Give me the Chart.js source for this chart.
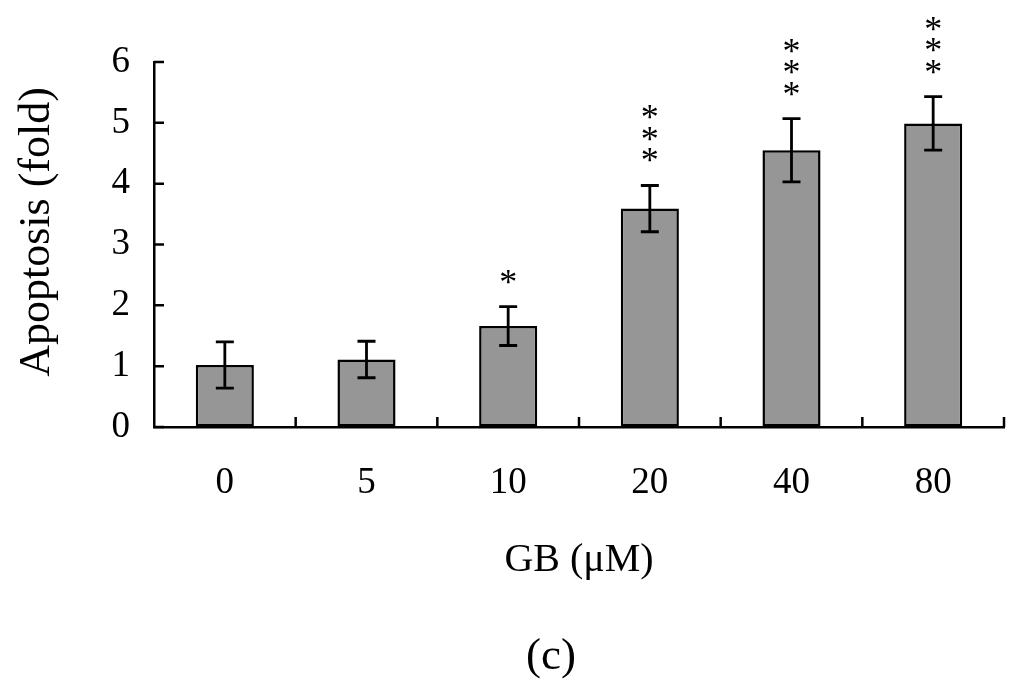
<!DOCTYPE html>
<html>
<head>
<meta charset="utf-8">
<title>Apoptosis (fold)</title>
<script src="https://cdn.jsdelivr.net/npm/chart.js@4.4.1/dist/chart.umd.min.js"></script>
<style>
  html, body { margin: 0; padding: 0; background: #fff; }
  canvas { display: block; }
</style>
</head>
<body>
<canvas id="apoptosisChart" width="1024" height="688"></canvas>
<script>

// ================= DATA =================
const doses = ["0", "5", "10", "20", "40", "80"];
const foldValues = [1.02, 1.11, 1.66, 3.59, 4.55, 4.99];
const foldErrors = [0.38, 0.30, 0.32, 0.38, 0.52, 0.44];
const stars = ["", "", "*", "***", "***", "***"];
const yTicks = [0, 1, 2, 3, 4, 5, 6];

const SERIF = "'Liberation Serif', 'Times New Roman', serif";


// ================= EXTRAS (error bars, stars, inward ticks, labels) =================
const extrasPlugin = {
  id: "extras",
  afterDatasetsDraw(chart) {
    const { ctx, chartArea, scales: { x, y } } = chart;

    ctx.save();
    ctx.strokeStyle = "#000";
    ctx.fillStyle = "#000";
    ctx.lineWidth = 2.8;

    // error bars
    foldValues.forEach((v, i) => {
      const cx = x.getPixelForValue(i);
      const top = y.getPixelForValue(v + foldErrors[i]);
      const bot = y.getPixelForValue(v - foldErrors[i]);
      ctx.beginPath();
      ctx.moveTo(cx, top); ctx.lineTo(cx, bot);
      ctx.moveTo(cx - 9, top); ctx.lineTo(cx + 9, top);
      ctx.moveTo(cx - 9, bot); ctx.lineTo(cx + 9, bot);
      ctx.stroke();
    });

    // significance stars, stacked one above the other
    ctx.font = "36px " + SERIF;
    ctx.textAlign = "center";
    ctx.textBaseline = "alphabetic";
    const m = ctx.measureText("*");
    const shift = (m.actualBoundingBoxAscent - m.actualBoundingBoxDescent) / 2;
    stars.forEach((s, i) => {
      if (!s) return;
      const cx = x.getPixelForValue(i);
      const base = y.getPixelForValue(foldValues[i] + foldErrors[i]) - 30;
      for (let k = 0; k < s.length; k++) {
        ctx.fillText("*", cx, base - k * 21.5 + shift);
      }
    });

    // y ticks point into the plot
    ctx.lineWidth = 2.5;
    ctx.beginPath();
    yTicks.forEach(t => {
      const py = y.getPixelForValue(t);
      ctx.moveTo(chartArea.left, py);
      ctx.lineTo(chartArea.left + 10, py);
    });
    // x ticks sit between the categories, pointing up
    doses.forEach((d, i) => {
      const px = x.getPixelForValue(i + 0.5);
      ctx.moveTo(px, chartArea.bottom);
      ctx.lineTo(px, chartArea.bottom - 10);
    });
    ctx.stroke();

    // y axis title (sits a little above the plot centre in the original)
    ctx.textBaseline = "middle";
    ctx.font = "44px " + SERIF;
    ctx.save();
    ctx.translate(37, 232);
    ctx.rotate(-Math.PI / 2);
    ctx.fillText("Apoptosis (fold)", 0, 0);
    ctx.restore();

    // panel label
    ctx.font = "45px " + SERIF;
    ctx.fillText("(c)", 551, 657);

    ctx.restore();
  }
};


// ================= CHART =================
new Chart(document.getElementById("apoptosisChart"), {
  type: "bar",
  data: {
    labels: doses,
    datasets: [{
      data: foldValues,
      backgroundColor: "#969696",
      borderColor: "#000",
      borderWidth: 2.5,
      borderSkipped: false,
      barPercentage: 0.41,
      categoryPercentage: 1
    }]
  },
  options: {
    responsive: false,
    animation: false,
    devicePixelRatio: 1,
    layout: { padding: { top: 62, right: 20, left: 0, bottom: 0 } },
    plugins: {
      legend: { display: false },
      tooltip: { enabled: false }
    },
    scales: {
      x: {
        afterFit: s => { s.height = 261; },
        grid: { display: true, drawOnChartArea: false, drawTicks: false },
        border: { display: true, color: "#000", width: 2.5 },
        ticks: {
          color: "#000",
          padding: 34,
          font: { family: SERIF, size: 37 }
        },
        title: {
          display: true,
          text: "GB (μM)",
          color: "#000",
          font: { family: SERIF, size: 40 },
          padding: { top: 0, bottom: 104 }
        }
      },
      y: {
        min: 0,
        max: 6,
        afterFit: s => { s.width = 154; },
        afterBuildTicks: s => { s.ticks = yTicks.map(v => ({ value: v })); },
        grid: { display: true, drawOnChartArea: false, drawTicks: false },
        border: { display: true, color: "#000", width: 2.5 },
        ticks: {
          color: "#000",
          padding: 24,
          font: { family: SERIF, size: 37 }
        }
      }
    }
  },
  plugins: [extrasPlugin]
});

</script>
</body>
</html>
